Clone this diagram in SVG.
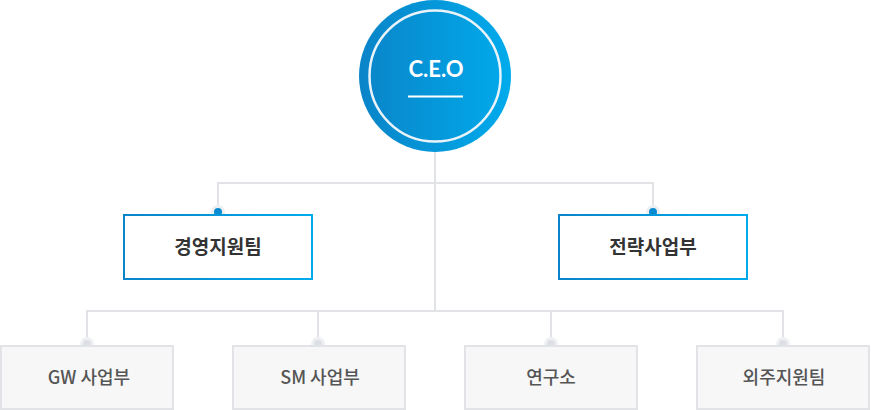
<svg xmlns="http://www.w3.org/2000/svg" width="871" height="410" viewBox="0 0 871 410">
<defs>
<linearGradient id="gBlue" x1="0" y1="0" x2="1" y2="0">
<stop offset="0" stop-color="#0a84c8"/>
<stop offset="1" stop-color="#00abec"/>
</linearGradient>
<style>
.ln{fill:none;stroke:#e1e3e6;stroke-width:2}
.mid{fill:#fff;stroke:url(#gBlue);stroke-width:2}
.bot{fill:#f7f7f7;stroke:#e1e3e6;stroke-width:2}
.t1{font-family:"Noto Sans CJK KR","Noto Sans",sans-serif;font-size:19px;font-weight:700;fill:#333;text-anchor:middle}
.t2{font-family:"Noto Sans CJK KR","Noto Sans",sans-serif;font-size:18px;font-weight:500;fill:#555;text-anchor:middle}
.dotB{fill:#0a8ad0;stroke:#eceff2;stroke-width:3}
.dotG{fill:#dcdfe3;stroke:#eef0f2;stroke-width:3}
</style>
</defs>
<g id="connectors">
<path class="ln" d="M435 150V311M218 212V183H653V212M87 344V311H783V344M318 311V344M551 311V344"/>
</g>
<g id="ceo">
<circle cx="435" cy="76" r="76" fill="url(#gBlue)"/>
<circle cx="435" cy="76" r="65.5" fill="none" stroke="#e9f3f9" stroke-width="2.5"/>
<text x="436" y="77" font-family="Lato,'Noto Sans',sans-serif" font-size="22" font-weight="700" fill="#fff" text-anchor="middle">C.E.O</text>
<line x1="408" y1="96.5" x2="463" y2="96.5" stroke="#fff" stroke-width="2"/>
</g>
<g id="n-mgmt">
<circle class="dotB" cx="218" cy="212" r="5.5"/>
<rect class="mid" x="124" y="215" width="188" height="64"/>
<text class="t1" x="218" y="254">경영지원팀</text>
</g>
<g id="n-strategy">
<circle class="dotB" cx="653" cy="212" r="5.5"/>
<rect class="mid" x="559" y="215" width="188" height="64"/>
<text class="t1" x="653" y="254">전략사업부</text>
</g>
<g id="n-gw">
<circle class="dotG" cx="87" cy="344" r="5.5"/>
<rect class="bot" x="1" y="346" width="172" height="63"/>
<text class="t2" x="89" y="384">GW 사업부</text>
</g>
<g id="n-sm">
<circle class="dotG" cx="318" cy="344" r="5.5"/>
<rect class="bot" x="233" y="346" width="172" height="63"/>
<text class="t2" x="320" y="384">SM 사업부</text>
</g>
<g id="n-lab">
<circle class="dotG" cx="551" cy="344" r="5.5"/>
<rect class="bot" x="465" y="346" width="172" height="63"/>
<text class="t2" x="551" y="384">연구소</text>
</g>
<g id="n-outsrc">
<circle class="dotG" cx="783" cy="344" r="5.5"/>
<rect class="bot" x="697" y="346" width="172" height="63"/>
<text class="t2" x="784" y="384">외주지원팀</text>
</g>
</svg>
